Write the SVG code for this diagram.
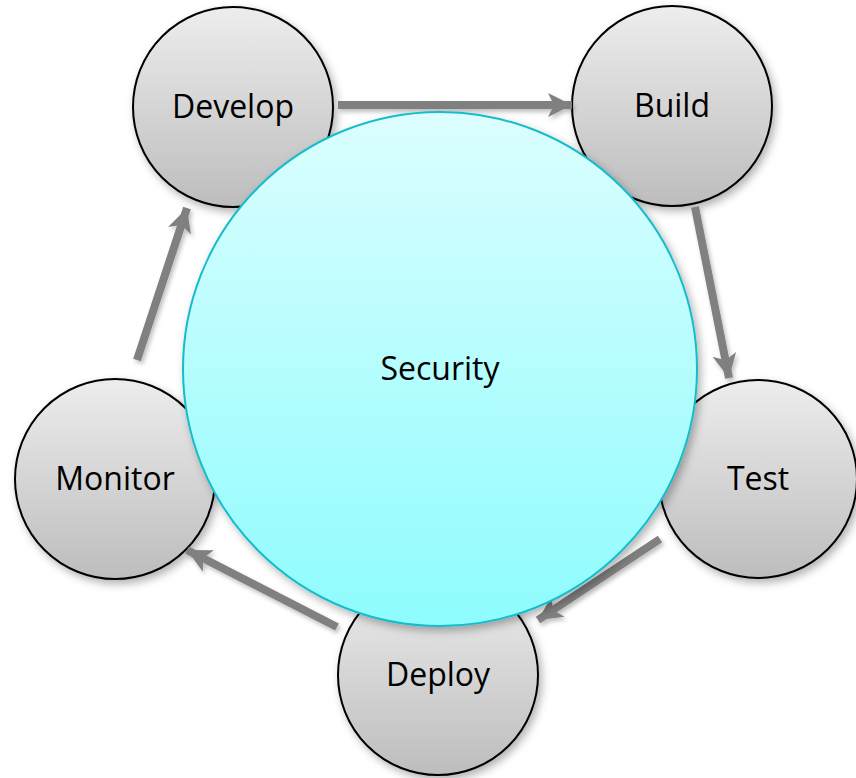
<svg xmlns="http://www.w3.org/2000/svg" width="856" height="778" viewBox="0 0 856 778">
<defs>
<linearGradient id="gGray" x1="0" y1="0" x2="0" y2="1">
<stop offset="0" stop-color="#ededed"/>
<stop offset="1" stop-color="#bdbdbd"/>
</linearGradient>
<linearGradient id="gCyan" x1="0" y1="0" x2="0" y2="1">
<stop offset="0" stop-color="#dcfeff"/>
<stop offset="1" stop-color="#8efcfd"/>
</linearGradient>
<filter id="sh" x="-20%" y="-20%" width="140%" height="140%">
<feDropShadow dx="3" dy="4" stdDeviation="4" flood-color="#000" flood-opacity="0.3"/>
</filter>
<filter id="ash" x="-20%" y="-20%" width="140%" height="140%">
<feDropShadow dx="2" dy="3" stdDeviation="2" flood-color="#000" flood-opacity="0.25"/>
</filter>
<marker id="ah" markerUnits="userSpaceOnUse" markerWidth="28" markerHeight="26" refX="24" refY="13" orient="auto">
<path d="M0,1 L24,13 L0,25 L6,13 Z" fill="#808080"/>
</marker>
</defs>
<style>
.node circle{fill:url(#gGray);stroke:#000;stroke-width:2;filter:url(#sh)}
.lbl{font-family:"Open Sans","DejaVu Sans",sans-serif;font-size:32px;fill:#000;text-anchor:middle}
.conn line{stroke:#808080;stroke-width:8;marker-end:url(#ah)}
</style>
<rect width="856" height="778" fill="#fff"/>
<g id="develop" class="node"><circle cx="233" cy="107" r="100"/><text class="lbl" x="233" y="118">Develop</text></g>
<g id="build" class="node"><circle cx="672" cy="106" r="100"/><text class="lbl" x="672" y="117">Build</text></g>
<g id="test" class="node"><circle cx="758" cy="479" r="99"/><text class="lbl" x="758" y="490">Test</text></g>
<g id="deploy" class="node"><circle cx="438" cy="675" r="100"/><text class="lbl" x="438" y="686">Deploy</text></g>
<g id="monitor" class="node"><circle cx="115" cy="479" r="100"/><text class="lbl" x="115" y="490">Monitor</text></g>
<g id="connectors" filter="url(#ash)" class="conn">
<line x1="338" y1="105" x2="572" y2="105"/>
<line x1="695" y1="207" x2="729" y2="378"/>
<line x1="660" y1="539" x2="538" y2="620"/>
<line x1="337" y1="627" x2="187" y2="550"/>
<line x1="137" y1="360" x2="187" y2="208"/>
</g>
<g id="security">
<circle cx="440" cy="369" r="257" fill="url(#gCyan)" stroke="#16bccb" stroke-width="2" filter="url(#sh)"/>
<text class="lbl" x="440" y="380">Security</text>
</g>
</svg>
